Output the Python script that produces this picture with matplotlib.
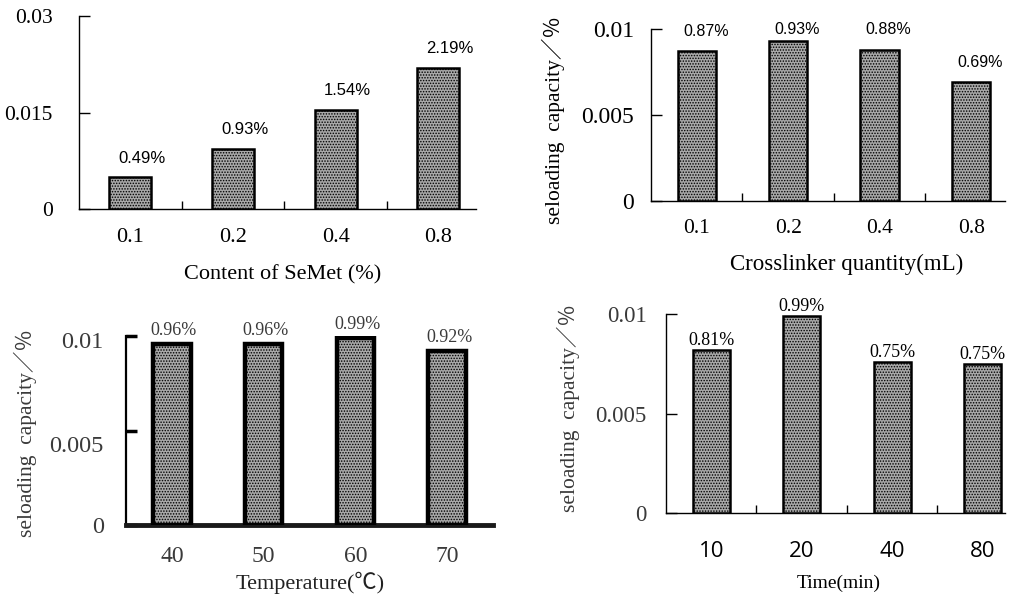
import matplotlib
matplotlib.use("Agg")
import matplotlib.pyplot as plt
import matplotlib.transforms as mtransforms

# ---------------- data ----------------
semet_cats = ["0.1", "0.2", "0.4", "0.8"]
semet_vals = [0.0049, 0.0093, 0.0154, 0.0219]
semet_lbls = ["0.49%", "0.93%", "1.54%", "2.19%"]

cross_cats = ["0.1", "0.2", "0.4", "0.8"]
cross_vals = [0.0087, 0.0093, 0.0088, 0.0069]
cross_lbls = ["0.87%", "0.93%", "0.88%", "0.69%"]

temp_cats = ["40", "50", "60", "70"]
temp_vals = [0.0096, 0.0096, 0.0099, 0.0092]
temp_lbls = ["0.96%", "0.96%", "0.99%", "0.92%"]

time_cats = ["10", "20", "40", "80"]
time_vals = [0.0082, 0.0099, 0.0076, 0.0075]
time_lbls = ["0.81%", "0.99%", "0.75%", "0.75%"]

W, H = 1011, 595
fig = plt.figure(figsize=(W / 100, H / 100), dpi=100)
fig.patch.set_facecolor("white")

SERIF = ["Liberation Serif", "DejaVu Serif"]
YLAB = "seloading  capacity／％"
YLAB_FAM = ["Liberation Serif", "Noto Sans CJK SC"]


def px_axes(x0, x1, ytop, ybot):
    return fig.add_axes([x0 / W, 1 - ybot / H, (x1 - x0) / W, (ybot - ytop) / H])


def style(ax, ylim, yticks, yticklabels, xlim, spine_lw=1.0):
    ax.set_ylim(*ylim)
    ax.set_xlim(*xlim)
    for s in ("top", "right"):
        ax.spines[s].set_visible(False)
    ax.spines["left"].set_linewidth(spine_lw)
    ax.spines["bottom"].set_linewidth(spine_lw)
    ax.set_yticks(yticks)
    ax.set_yticklabels(yticklabels)


def bars(ax, vals, width, lw, hatch_lw=0.7):
    x = list(range(len(vals)))
    plt.rcParams["hatch.linewidth"] = hatch_lw
    ax.bar(x, vals, width=width, facecolor="#a8a8a8", edgecolor="black",
           linewidth=lw, hatch="......", zorder=3)
    return x


# ---------------- panel 1 ----------------
ax1 = px_axes(79, 476, 16, 209)
x = bars(ax1, semet_vals, 0.41, 1.8)
style(ax1, (0, 0.03), [0, 0.015, 0.03], ["0", "0.015", "0.03"], (-0.5, 3.366))
ax1.set_xticks(x)
ax1.set_xticklabels(semet_cats)
ax1.set_xticks([0.5, 1.5, 2.5], minor=True)
ax1.tick_params(axis="x", which="major", length=0, pad=14, labelsize=16)
ax1.tick_params(axis="x", which="minor", direction="in", length=6, width=1)
ax1.tick_params(axis="y", direction="in", length=8, width=1, pad=19, labelsize=15.5)
for t in ax1.get_xticklabels() + ax1.get_yticklabels():
    t.set_fontfamily(SERIF)
for xi, v, l in zip(x, semet_vals, semet_lbls):
    ax1.annotate(l, (xi, v), xytext=(8.5, 14), textcoords="offset points",
                 ha="center", va="center", fontsize=12, family="Liberation Sans")
ax1.set_xlabel("Content of SeMet (%)", fontsize=16, family=SERIF, va="center")
ax1.xaxis.set_label_coords(0.514, -0.342)

# ---------------- panel 2 ----------------
ax2 = px_axes(651, 1005, 29, 201)
x = bars(ax2, cross_vals, 0.42, 1.8)
style(ax2, (0, 0.01), [0, 0.005, 0.01], ["0", "0.005", "0.01"], (-0.5, 3.37))
ax2.set_xticks(x)
ax2.set_xticklabels(cross_cats)
ax2.set_xticks([0.5, 1.5, 2.5], minor=True)
ax2.tick_params(axis="x", which="major", length=0, pad=13, labelsize=15.5)
ax2.tick_params(axis="x", which="minor", direction="in", length=6, width=1)
ax2.tick_params(axis="y", direction="in", length=8, width=1, pad=12, labelsize=17)
for t in ax2.get_xticklabels() + ax2.get_yticklabels():
    t.set_fontfamily(SERIF)
for xi, v, l in zip(x, cross_vals, cross_lbls):
    ly = min(v + 0.00116, 0.00995)
    ax2.annotate(l, (xi, ly), xytext=(6.5, 0), textcoords="offset points",
                 ha="center", va="center", fontsize=11.5, family="Liberation Sans")
ax2.set_xlabel("Crosslinker quantity(mL)", fontsize=16.5, family=SERIF, va="center")
ax2.xaxis.set_label_coords(0.554, -0.366)
ax2.set_ylabel(YLAB, fontsize=15.5, family=YLAB_FAM, va="center", ha="center")
ax2.yaxis.set_label_coords(-0.277, 0.471)

# ---------------- panel 3 ----------------
GRAY = "#3a3a3a"
ax3 = px_axes(126, 493, 336, 525)
x = bars(ax3, temp_vals, 0.41, 3.2)
style(ax3, (0, 0.01), [0, 0.005, 0.01], ["0", "0.005", "0.01"], (-0.5, 3.5), spine_lw=1.6)
ax3.spines["bottom"].set_linewidth(3.5)
ax3.spines["bottom"].set_color("#1a1a1a")
ax3.set_xticks(x)
ax3.set_xticklabels(temp_cats)
ax3.tick_params(axis="x", length=0, pad=15, labelsize=17, labelcolor=GRAY)
ax3.tick_params(axis="y", direction="in", length=8, width=2.5, pad=16, labelsize=17.5,
                labelcolor=GRAY)
for t in ax3.get_xticklabels():
    t.set_fontfamily(SERIF)
shifts = [0, 13, 4]
for t, s in zip(ax3.get_yticklabels(), shifts):
    t.set_fontfamily(SERIF)
    t.set_transform(t.get_transform() + mtransforms.ScaledTranslation(0, -s / 100, fig.dpi_scale_trans))
for xi, v, l in zip(x, temp_vals, temp_lbls):
    ax3.annotate(l, (xi, v), xytext=(1.5, 9.5), textcoords="offset points",
                 ha="center", va="center", fontsize=13, family=SERIF, color=GRAY)
ax3.set_xlabel("Temperature(℃)", fontsize=16, family=["Liberation Serif", "Noto Sans CJK SC"],
               va="center", color="#222222")
ax3.xaxis.set_label_coords(0.501, -0.307)
ax3.set_ylabel(YLAB, fontsize=15.5, family=YLAB_FAM, va="center", ha="center", color=GRAY)
ax3.yaxis.set_label_coords(-0.275, 0.487)

# ---------------- panel 4 ----------------
ax4 = px_axes(666, 1005, 314, 513)
x = bars(ax4, time_vals, 0.41, 1.8)
style(ax4, (0, 0.01), [0, 0.005, 0.01], ["0", "0.005", "0.01"], (-0.5, 3.246))
ax4.set_xticks(x)
ax4.set_xticklabels(time_cats)
ax4.set_xticks([0.5, 1.5, 2.5], minor=True)
ax4.tick_params(axis="x", which="major", length=0, pad=20, labelsize=16)
ax4.tick_params(axis="x", which="minor", direction="in", length=6, width=1)
ax4.tick_params(axis="y", direction="in", length=8, width=1, pad=14, labelsize=16.5,
                labelcolor=GRAY)
for t in ax4.get_xticklabels():
    t.set_fontfamily("Open Sans")
for t in ax4.get_yticklabels():
    t.set_fontfamily(SERIF)
for xi, v, l in zip(x, time_vals, time_lbls):
    ax4.annotate(l, (xi, v), xytext=(0, 7), textcoords="offset points",
                 ha="center", va="center", fontsize=13, family=SERIF)
ax4.set_xlabel("Time(min)", fontsize=14, family=SERIF, va="center")
ax4.xaxis.set_label_coords(0.510, -0.352)
ax4.set_ylabel(YLAB, fontsize=15.5, family=YLAB_FAM, va="center", ha="center", color=GRAY)
ax4.yaxis.set_label_coords(-0.289, 0.528)

fig.savefig("out.png", dpi=100, facecolor="white")
